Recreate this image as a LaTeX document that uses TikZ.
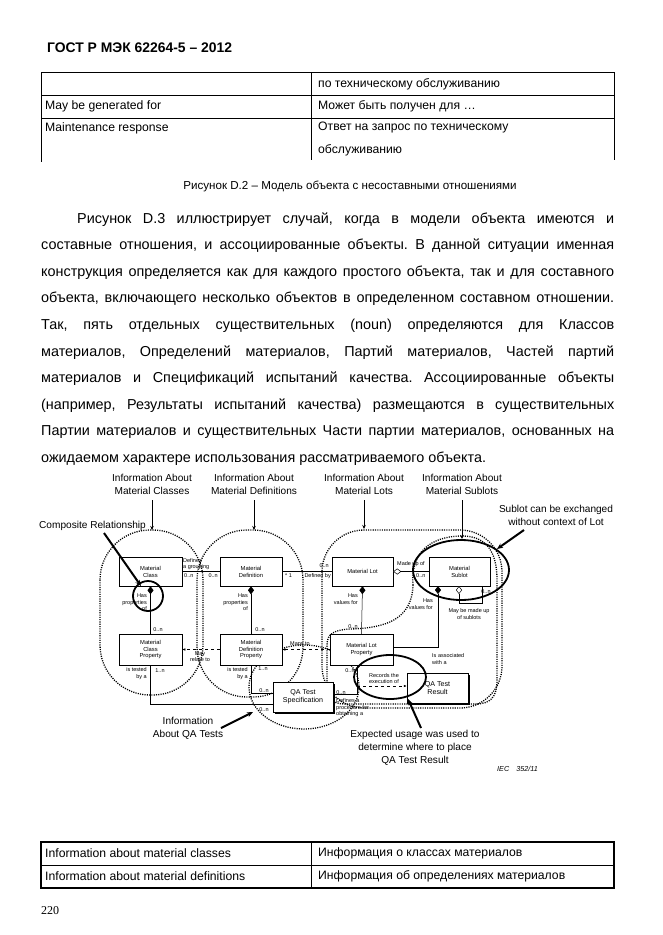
\documentclass[tikz,border=0pt]{standalone}
\usepackage{fontspec}
\setmainfont{Liberation Sans}
\newfontfamily\serifnum{Liberation Serif}
\usetikzlibrary{arrows.meta,shadows}
\frenchspacing
\begin{document}
\begin{tikzpicture}[x=1pt,y=-1pt,
  txt/.style={inner sep=0pt, anchor=west},
  cell/.style={inner sep=0pt, anchor=west, font=\fontsize{12.2}{15}\selectfont},
  para/.style={inner sep=0pt, anchor=base west, font=\fontsize{14.4}{17}\selectfont},
  obj/.style={draw, fill=white, line width=0.5pt, inner sep=0pt, align=center, font=\fontsize{5.8}{6.9}\selectfont, minimum width=62pt, minimum height=29pt},
  qabox/.style={obj, font=\fontsize{7.1}{8.4}\selectfont, drop shadow={shadow xshift=1.6pt, shadow yshift=-1.6pt, fill=black, opacity=1}},
  lbl/.style={inner sep=0pt, font=\fontsize{5.5}{6.6}\selectfont},
  infolbl/.style={inner sep=0pt, align=center, font=\fontsize{10.1}{12.8}\selectfont},
  region/.style={line width=1.3pt, dash pattern=on 1.1pt off 1.2pt},
  callout/.style={line width=2pt, -{Stealth[length=6pt,width=5pt]}},
  ptr/.style={line width=1pt, -{Stealth[length=4pt,width=3.5pt]}},
  comp/.style={line width=0.5pt, {Diamond[length=8pt,width=6pt]}-},
  aggr/.style={line width=0.5pt, {Diamond[open,length=8pt,width=6pt,fill=white]}-},
  assoc/.style={line width=0.5pt},
  dep/.style={line width=0.5pt, dashed, -{Latex[length=3pt,width=2.5pt]}},
]
\useasboundingbox (0,0) rectangle (662,935);
\fill[white] (0,0) rectangle (662,935);

% header
\node[txt, font=\bfseries\fontsize{13.9}{16}\selectfont] (hdr) at (47,48) {ГОСТ Р МЭК 62264-5 – 2012};

% top table
\draw[line width=1pt] (41,72) -- (614,72) (41,95) -- (614,95) (41,118) -- (614,118)
  (41,72) -- (41,162) (311,72) -- (311,160) (614,72) -- (614,160);
\node[cell] (t1r) at (318,84) {по техническому обслуживанию};
\node[cell] (t2l) at (45,106) {May be generated for};
\node[cell] (t2r) at (318,106) {Может быть получен для …};
\node[cell] (t3l) at (45,128) {Maintenance response};
\node[cell] (t3r) at (318,128) {Ответ на запрос по техническому};
\node[cell] (t3r2) at (318,150) {обслуживанию};

% caption
\node[inner sep=0pt, font=\fontsize{11.6}{14}\selectfont] (cap) at (350,186) {Рисунок D.2 – Модель объекта с несоставными отношениями};

% paragraph
\node[para] (p1) at (77,223) {\makebox[537pt][s]{Рисунок D.3 иллюстрирует случай, когда в модели объекта имеются и}};
\node[para] (p2) at (41,249.6) {\makebox[573pt][s]{составные отношения, и ассоциированные объекты. В данной ситуации именная}};
\node[para] (p3) at (41,276.2) {\makebox[573pt][s]{конструкция определяется как для каждого простого объекта, так и для составного}};
\node[para] (p4) at (41,302.8) {\makebox[573pt][s]{объекта, включающего несколько объектов в определенном составном отношении.}};
\node[para] (p5) at (41,329.4) {\makebox[573pt][s]{Так, пять отдельных существительных (noun) определяются для Классов}};
\node[para] (p6) at (41,356) {\makebox[573pt][s]{материалов, Определений материалов, Партий материалов, Частей партий}};
\node[para] (p7) at (41,382.6) {\makebox[573pt][s]{материалов и Спецификаций испытаний качества. Ассоциированные объекты}};
\node[para] (p8) at (41,409.2) {\makebox[573pt][s]{(например, Результаты испытаний качества) размещаются в существительных}};
\node[para] (p9) at (41,435.8) {\makebox[573pt][s]{Партии материалов и существительных Части партии материалов, основанных на}};
\node[para] (p10) at (41,462.4) {ожидаемом характере использования рассматриваемого объекта.};

% ---------- diagram ----------
% dotted regions
\draw[region, rounded corners=50pt] (100,530) rectangle (203,695);
\draw[region, rounded corners=50pt] (197,530) rectangle (303,697);
\draw[region, rounded corners=42pt] (322,530) rectangle (502,708);
\draw[region] (413,585) .. controls (410,545) and (440,536) .. (462,536)
  .. controls (485,536) and (497,550) .. (497,580) -- (497,680)
  .. controls (497,698) and (490,704) .. (475,704) -- (345,704)
  .. controls (332,704) and (327,698) .. (327,685) -- (327,645)
  .. controls (327,633) and (335,630) .. (350,629)
  .. controls (385,628) and (412,620) .. (413,585) -- cycle;
\draw[region] (304,687) ellipse [x radius=55, y radius=42];

% objects
\node[obj, minimum width=63pt] (mc) at (150.5,571.5) {Material\\Class};
\node[obj] (md) at (251,571.5) {Material\\Definition};
\node[obj, minimum width=61pt] (ml) at (362.5,571.5) {Material Lot};
\node[obj, minimum width=61pt] (ms) at (459.5,571.5) {Material\\Sublot};
\node[obj, minimum width=63pt, minimum height=31pt] (mcp) at (150.5,649.5) {Material\\Class\\Property};
\node[obj, minimum height=31pt] (mdp) at (251,649.5) {Material\\Definition\\Property};
\node[obj, minimum width=63pt, minimum height=31pt] (mlp) at (361.5,649.5) {Material Lot\\Property};
\node[qabox, minimum width=60pt, minimum height=30pt] (qs) at (303,697) {QA Test\\Specification};
\node[qabox, minimum width=61pt, minimum height=30pt] (qr) at (437.5,688) {QA Test\\Result};

% relations
\draw[assoc] (mc.east) -- (md.west);
\node[lbl, anchor=west] (l1) at (183,560.5) {Defines};
\node[lbl, anchor=west] (l2) at (183,567) {a grouping};
\node[lbl, anchor=west] (l3) at (184,575.5) {0..n};
\node[lbl, anchor=east] (l4) at (218,575.5) {0..n};

\draw[assoc] (md.east) -- (ml.west);
\node[lbl, anchor=west] (l5) at (285,575.5) {* 1};
\node[lbl, anchor=east] (l6) at (329,566) {0..n};
\node[lbl, anchor=east] (l7) at (331,576) {Defined by};

\draw[aggr] (ml.east) -- (ms.west);
\node[lbl, anchor=west] (l8) at (397,564) {Made up of};
\node[lbl, anchor=west] (l9) at (416,575.5) {0..n};

\draw[comp] (mc.south) -- (mcp.north);
\node[lbl, anchor=north east, align=right] (l10) at (147,593.5) {Has\\properties\\of};
\node[lbl] (l11) at (158,630) {0..n};

\draw[comp] (md.south) -- (mdp.north);
\node[lbl, anchor=north east, align=right] (l12) at (248,593.5) {Has\\properties\\of};
\node[lbl] (l13) at (260,630) {0..n};

\draw[comp] (ml.south) -- (mlp.north);
\node[lbl, anchor=north east, align=right] (l14) at (358,593.5) {Has\\values for};
\node[lbl] (l15) at (353,627) {0..n};

\coordinate (msd) at (438,586);
\draw[comp] (msd) -- (438,647) -- (mlp.east |- 0,647);
\node[lbl, anchor=north east, align=right] (l16) at (433,598.5) {Has\\values for};

\coordinate (msa) at (459,586);
\coordinate (msb) at (482,586);
\draw[aggr] (msa) -- (459,603) -- (482,603) -- (msb);
\node[lbl] (l17) at (486,592) {0..n};
\node[lbl, align=center] (l18) at (469,614) {May be made up\\of sublots};

\node[lbl, anchor=north west, align=left] (l19) at (432,653.5) {Is associated\\with a};

\draw[dep] (mdp.west) -- (mcp.east);
\node[lbl, align=center] (l20) at (200,656.5) {May\\relate to};
\draw[dep] (mlp.west) -- (mdp.east);
\node[lbl] (l21) at (300,644.5) {Maps to};

\draw[assoc] (mcp.south) -- (150.5,704) -- (qs.west |- 0,704);
\node[lbl, anchor=north east, align=right] (l22) at (147,667.5) {is tested\\by a};
\node[lbl] (l23) at (160,671) {1..n};
\node[lbl] (l24) at (264,710) {0..n};

\draw[assoc] (mdp.south) -- (251,693) -- (qs.west |- 0,693);
\node[lbl, anchor=north east, align=right] (l25) at (248,667.5) {is tested\\by a};
\node[lbl] (l26) at (263,669) {1..n};
\node[lbl] (l27) at (264,691) {0..n};

\coordinate (jn) at (357,686);
\draw[assoc] (qs.east |- 0,694) -- (357,694) -- (357,665);
\node[lbl] (l28) at (341,692.5) {0..n};
\node[lbl] (l29) at (350,671) {0..n};
\node[lbl, anchor=north west, align=left] (l30) at (336,698.5) {Defines a\\procedure for\\obtaining a};
\draw[dep] (jn) -- (qr.west |- jn);
\node[lbl, align=center] (l31) at (384,678.5) {Records the\\execution of};

% highlight ellipses
\draw[line width=1.8pt] (148,596) circle (15);
\draw[line width=1.8pt] (461,570) ellipse [x radius=48, y radius=30];
\draw[line width=1.8pt] (390,677) ellipse [x radius=36, y radius=22];

% top labels and pointers
\node[infolbl] (i1) at (152,484.5) {Information About\\Material Classes};
\node[infolbl] (i2) at (254,484.5) {Information About\\Material Definitions};
\node[infolbl] (i3) at (364,484.5) {Information About\\Material Lots};
\node[infolbl] (i4) at (462,484.5) {Information About\\Material Sublots};
\node[infolbl] (i5) at (556,515.5) {Sublot can be exchanged\\without context of Lot};
\node[infolbl, anchor=west] (i6) at (39,526) {Composite Relationship};
\node[infolbl] (i7) at (188,728.5) {Information\\About QA Tests};
\node[infolbl] (i8) at (415,747.5) {Expected usage was used to\\determine where to place\\QA Test Result};
\node[inner sep=0pt, anchor=west, font=\itshape\fontsize{7.2}{9}\selectfont] (iec) at (497,769) {IEC\quad 352/11};

\coordinate (a1) at (152,530);
\coordinate (a2) at (254,530);
\coordinate (a3) at (364,529);
\coordinate (a4) at (462,539);
\draw[ptr] (i1.south |- 0,500) -- (a1);
\draw[ptr] (i2.south |- 0,500) -- (a2);
\draw[ptr] (i3.south |- 0,500) -- (a3);
\draw[ptr] (i4.south |- 0,500) -- (a4);

\coordinate (c1s) at (104,533);
\coordinate (c1e) at (141,586);
\draw[callout] (c1s) -- (c1e);
\coordinate (c2s) at (524,530);
\coordinate (c2e) at (497,549);
\draw[callout] (c2s) -- (c2e);
\coordinate (c3s) at (221,728);
\coordinate (c3e) at (253,712);
\draw[callout] (c3s) -- (c3e);
\coordinate (c4s) at (421,728);
\coordinate (c4e) at (408,699);
\draw[callout] (c4s) -- (c4e);

% bottom table
\draw[line width=1.2pt] (41,842) rectangle (614,888);
\draw[line width=1pt] (41,865) -- (614,865) (311,842) -- (311,888);
\node[cell] (b1l) at (45,853.5) {Information about material classes};
\node[cell] (b1r) at (318,853.5) {Информация о классах материалов};
\node[cell] (b2l) at (45,876.5) {Information about material definitions};
\node[cell] (b2r) at (318,876.5) {Информация об определениях материалов};

\node[inner sep=0pt, anchor=west, font=\serifnum\fontsize{12}{14}\selectfont] (pg) at (41,911) {220};
\end{tikzpicture}
\end{document}
